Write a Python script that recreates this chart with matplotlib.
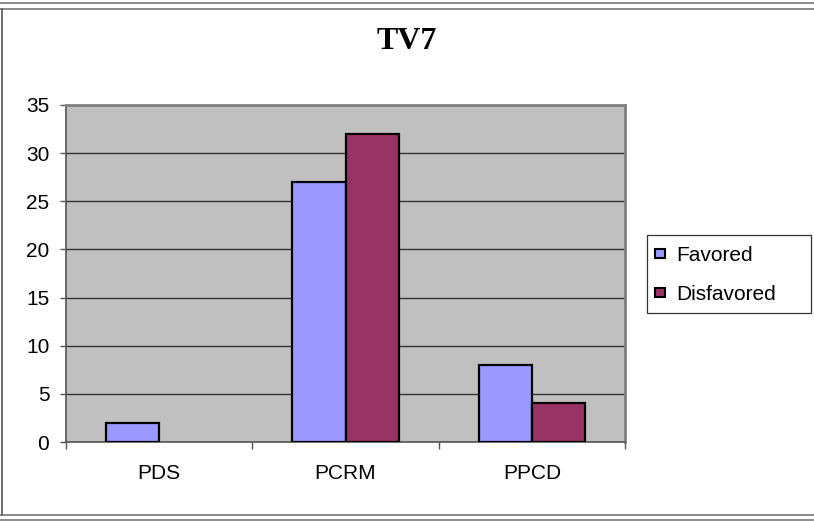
import matplotlib
matplotlib.use("Agg")
import matplotlib.pyplot as plt
from matplotlib.patches import Rectangle, Patch
from matplotlib.lines import Line2D
import numpy as np

parties = ["PDS", "PCRM", "PPCD"]
favored = [2, 27, 8]
disfavored = [0, 32, 4]
series_names = ["Favored", "Disfavored"]
colors = ["#9999FF", "#993366"]

W, H = 814, 522
fig = plt.figure(figsize=(W / 100, H / 100), dpi=100)
fig.patch.set_facecolor("white")

# plot area in pixels: left 66, right 625, top 105, bottom 442
ax = fig.add_axes([66 / W, 1 - 442 / H, (625 - 66) / W, (442 - 105) / H])
ax.set_facecolor("#C0C0C0")

x = np.arange(len(parties))
bw = 1 / 3.5
for i, (vals, col) in enumerate(zip([favored, disfavored], colors)):
    bars = ax.bar(x + (i - 0.5) * bw, vals, bw, color=col, edgecolor="black",
                  linewidth=1.6, zorder=3)
    for b, v in zip(bars, vals):
        if v == 0:
            b.set_visible(False)

ax.set_xlim(-0.5, 2.5)
ax.set_ylim(0, 35)
ax.set_yticks(range(0, 36, 5))
ax.yaxis.grid(True, color="#333333", linewidth=1.0, zorder=1)
ax.set_axisbelow(True)

ax.set_xticks(x)
ax.set_xticklabels(parties)
ax.set_xticks([-0.5, 0.5, 1.5, 2.5], minor=True)
ax.tick_params(axis="x", which="major", length=0, pad=16, labelsize=15)
ax.tick_params(axis="x", which="minor", length=5, width=1, color="#555555")
ax.tick_params(axis="y", length=4, width=1, color="#555555", labelsize=15, pad=8)

for side in ["top", "right"]:
    ax.spines[side].set_color("#808080")
    ax.spines[side].set_linewidth(2)
for side in ["left", "bottom"]:
    ax.spines[side].set_color("#555555")
    ax.spines[side].set_linewidth(1.2)

for lbl in ax.get_xticklabels() + ax.get_yticklabels():
    lbl.set_fontfamily("Liberation Sans")

fig.text(407 / W, 1 - 49 / H, "TV7", ha="center", va="baseline",
         fontsize=23, fontweight="bold", fontfamily="Liberation Serif")

# legend: frame drawn separately so the padding matches
handles = [Patch(facecolor=c, edgecolor="black", linewidth=1.5) for c in colors]
leg = fig.legend(handles, series_names, loc="upper left",
                 bbox_to_anchor=(655 / W, 1 - 246 / H),
                 prop={"family": "Liberation Sans", "size": 15},
                 frameon=False, borderaxespad=0, borderpad=0,
                 handlelength=0.5, handleheight=0.3, handletextpad=0.5,
                 labelspacing=0.95)
fig.add_artist(Rectangle((647 / W, 1 - 313 / H), (811 - 647) / W, (313 - 235) / H,
                         transform=fig.transFigure, fill=False,
                         edgecolor="#333333", linewidth=0.9))

# outer chart border (no right edge, as in the reference)
for y in (3, 9, 515, 520):
    fig.add_artist(Line2D([0, 1], [1 - y / H, 1 - y / H], transform=fig.transFigure,
                          color="#777777", linewidth=1.2))
fig.add_artist(Line2D([2 / W, 2 / W], [1 - 515 / H, 1 - 9 / H],
                      transform=fig.transFigure, color="#555555", linewidth=1.2))

fig.savefig("out.png", dpi=100)
